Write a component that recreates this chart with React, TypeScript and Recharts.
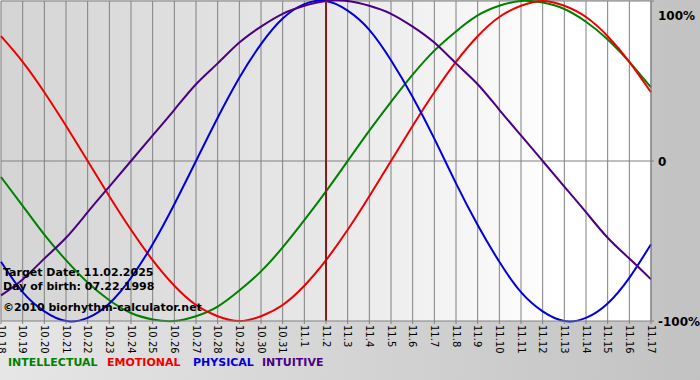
import {
  LineChart,
  Line,
  XAxis,
  YAxis,
  CartesianGrid,
  ReferenceLine,
} from "recharts";

const days = [
  "10.18", "10.19", "10.20", "10.21", "10.22", "10.23", "10.24", "10.25",
  "10.26", "10.27", "10.28", "10.29", "10.30", "10.31", "11.1", "11.2",
  "11.3", "11.4", "11.5", "11.6", "11.7", "11.8", "11.9", "11.10",
  "11.11", "11.12", "11.13", "11.14", "11.15", "11.16", "11.17",
];

const intellectual = [
  -10, -28, -46, -62, -76, -87, -95, -99, -100, -97, -91, -81, -69, -54, -37, -19,
  0, 19, 37, 54, 69, 81, 91, 97, 100, 99, 95, 87, 76, 62, 46,
];

const emotional = [
  78, 62, 43, 22, 0, -22, -43, -62, -78, -90, -97, -100, -97, -90, -78, -62,
  -43, -22, 0, 22, 43, 62, 78, 90, 97, 100, 97, 90, 78, 62, 43,
];

const physical = [
  -63, -82, -94, -100, -98, -89, -73, -52, -27, 0, 27, 52, 73, 89, 98, 100,
  94, 82, 63, 40, 14, -14, -40, -63, -82, -94, -100, -98, -89, -73, -52,
];

const intuitive = [
  -84, -74, -61, -48, -32, -16, 0, 16, 32, 48, 61, 74, 84, 92, 97, 100,
  100, 97, 92, 84, 74, 61, 48, 32, 16, 0, -16, -32, -48, -61, -74,
];

const percentTicks = [-100, 0, 100];
const targetDay = "11.2";

const legendItems = [
  { name: "INTELLECTUAL", color: "#008000", left: 8 },
  { name: "EMOTIONAL", color: "#ee0000", left: 107 },
  { name: "PHYSICAL", color: "#0000dd", left: 193 },
  { name: "INTUITIVE", color: "#4b0082", left: 262 },
];

const data = days.map((day, i) => ({
  day,
  intellectual: intellectual[i],
  emotional: emotional[i],
  physical: physical[i],
  intuitive: intuitive[i],
}));

const font = "'DejaVu Sans', Verdana, sans-serif";

const DayTick = ({ x, y, payload }: any) => (
  <text
    transform={`translate(${x - 3.5},${y - 1}) rotate(90)`}
    fontSize={10}
    fontFamily={font}
    fill="#000"
  >
    {payload.value}
  </text>
);

const PercentTick = ({ x, y, payload }: any) => {
  const v = payload.value;
  const label = v === 0 ? "0" : `${v}%`;
  return (
    <text
      x={x + 2}
      y={v === 100 ? y + 11 : y + 5}
      fontSize={12}
      fontWeight="bold"
      fontFamily={font}
      fill="#000"
    >
      {label}
    </text>
  );
};

const textStyle = {
  position: "absolute" as const,
  left: 3,
  fontFamily: font,
  fontSize: 11,
  fontWeight: "bold" as const,
  lineHeight: "13px",
  color: "#000",
  whiteSpace: "nowrap" as const,
};

export default function App() {
  return (
    <div
      style={{
        position: "fixed",
        left: 0,
        top: 0,
        width: 700,
        height: 380,
        background: "linear-gradient(to right, #e6e6e6, #c2c2c2)",
      }}
    >
      <LineChart
        width={700}
        height={380}
        data={data}
        margin={{ top: 1, right: 0, bottom: 0, left: 1 }}
      >
        <defs>
          <linearGradient id="plotBg" x1="0" y1="0" x2="1" y2="0">
            <stop offset="0%" stopColor="#d4d4d4" />
            <stop offset="50%" stopColor="#e8e8e8" />
            <stop offset="80%" stopColor="#fbfbfb" />
            <stop offset="86%" stopColor="#ffffff" />
            <stop offset="100%" stopColor="#ffffff" />
          </linearGradient>
        </defs>
        <CartesianGrid
          horizontal={false}
          stroke="#808080"
          fill="url(#plotBg)"
          fillOpacity={1}
        />
        <XAxis
          dataKey="day"
          interval={0}
          height={59}
          tick={<DayTick />}
          tickSize={3}
          tickLine={{ stroke: "#808080" }}
          axisLine={{ stroke: "#808080" }}
        />
        <YAxis
          orientation="right"
          width={49}
          domain={[-100, 100]}
          ticks={percentTicks}
          tick={<PercentTick />}
          tickSize={3}
          tickLine={{ stroke: "#808080" }}
          axisLine={{ stroke: "#808080" }}
        />
        <ReferenceLine y={0} stroke="#808080" />
        <ReferenceLine y={100} stroke="#808080" />
        <Line
          type="natural"
          dataKey="intellectual"
          stroke="#008000"
          strokeWidth={2}
          dot={false}
          isAnimationActive={false}
        />
        <Line
          type="natural"
          dataKey="emotional"
          stroke="#ee0000"
          strokeWidth={2}
          dot={false}
          isAnimationActive={false}
        />
        <Line
          type="natural"
          dataKey="physical"
          stroke="#0000dd"
          strokeWidth={2}
          dot={false}
          isAnimationActive={false}
        />
        <Line
          type="natural"
          dataKey="intuitive"
          stroke="#4b0082"
          strokeWidth={2}
          dot={false}
          isAnimationActive={false}
        />
        <ReferenceLine x={targetDay} stroke="#8b1a1a" strokeWidth={2} />
      </LineChart>
      <div style={{ ...textStyle, top: 266 }}>Target Date: 11.02.2025</div>
      <div style={{ ...textStyle, top: 280 }}>Day of birth: 07.22.1998</div>
      <div style={{ ...textStyle, top: 301 }}>©2010 biorhythm-calculator.net</div>
      {legendItems.map((item) => (
        <div
          key={item.name}
          style={{ ...textStyle, top: 356, left: item.left, color: item.color }}
        >
          {item.name}
        </div>
      ))}
    </div>
  );
}
